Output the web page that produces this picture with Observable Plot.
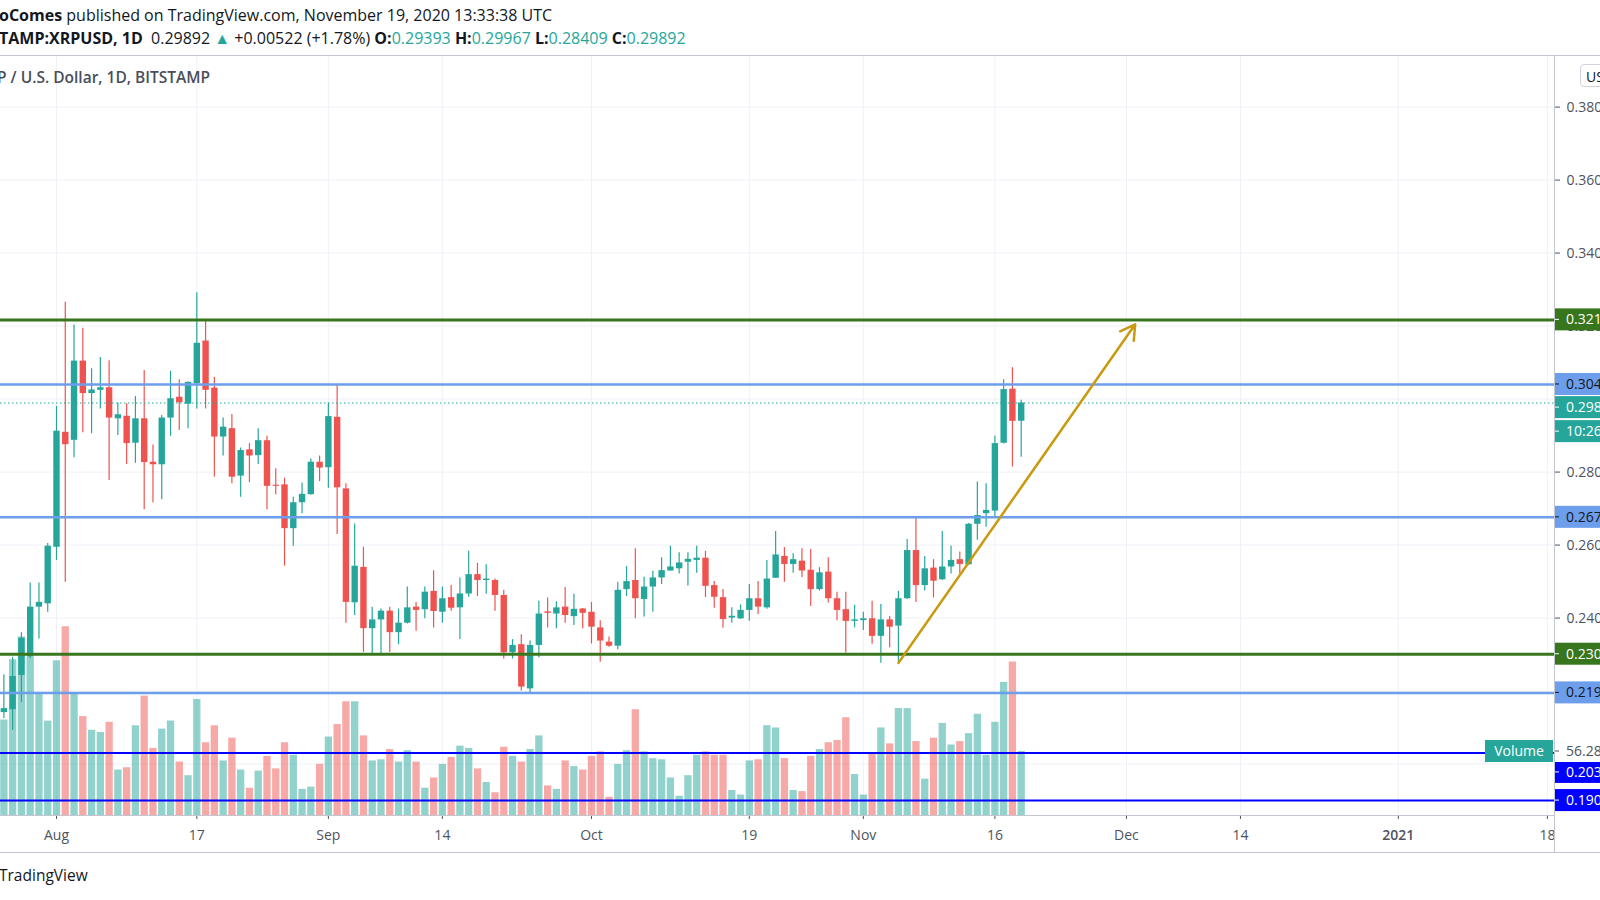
<!DOCTYPE html>
<html><head><meta charset="utf-8"><title>XRPUSD 1D</title>
<script src="https://cdn.jsdelivr.net/npm/d3@7"></script>
<script src="https://cdn.jsdelivr.net/npm/@observablehq/plot@0.6"></script>
<style>
html,body{margin:0;padding:0;background:#fff;}
body{width:1600px;height:900px;overflow:hidden;position:relative;font-family:"Open Sans","Noto Sans",sans-serif;color:#131722;}
.hl{position:absolute;white-space:nowrap;font-size:16px;line-height:20px;}
#l1{left:-1px;top:5px;}
#l2{left:-1px;top:28px;}
.t{color:#26a69a}
#l3{left:-3px;top:67px;color:#4a4e5a;font-weight:600;font-size:15.5px;}
#foot{left:-1px;top:865px;font-size:15.5px;}
.bl{position:absolute;background:#c3c6ce;}
.layer{position:absolute;left:0;top:56px;}
#usd{position:absolute;left:1580px;top:64px;width:34px;height:23px;border:1px solid #d1d4dc;border-radius:4px;font-size:14px;line-height:23px;padding-left:5px;box-sizing:border-box;color:#131722;background:#fff;}
</style></head><body>
<div class="hl" id="l1"><b>oComes</b> published on TradingView.com, November 19, 2020 13:33:38 UTC</div>
<div class="hl" id="l2"><b>TAMP:XRPUSD, 1D</b>&nbsp; 0.29892 <span class="t">▲</span> +0.00522 (+1.78%) <b>O:</b><span class="t">0.29393</span> <b>H:</b><span class="t">0.29967</span> <b>L:</b><span class="t">0.28409</span> <b>C:</b><span class="t">0.29892</span></div>
<div class="layer" id="gridLayer"></div>
<div class="layer" id="volLayer"></div>
<div class="layer" id="mainLayer"></div>
<div class="bl" style="left:0;top:55px;width:1600px;height:1px;"></div>
<div class="bl" style="left:0;top:852px;width:1600px;height:1px;"></div>
<div class="bl" style="left:0;top:815px;width:1554px;height:1px;"></div>
<div class="bl" style="left:1554px;top:56px;width:1px;height:797px;"></div>
<div class="hl" id="l3">P / U.S. Dollar, 1D, BITSTAMP</div>
<div id="usd">USD</div>
<div class="hl" id="foot">TradingView</div>
<script>
// ---- data (XRP/USD daily, Bitstamp) ----
const startDay = "2020-07-26";
const open = [0.2141,0.2149,0.2243,0.2293,0.2430,0.2439,
0.2594,0.2909,0.2887,0.3104,0.3015,0.3024,0.3031,0.2946,0.2953,0.2879,0.2946,0.2827,0.2820,0.2948,0.3005,0.2986,0.3042,0.3159,0.3030,0.2896,0.2919,0.2789,0.2861,0.2845,0.2886,0.2764,0.2765,0.2645,0.2716,0.2738,0.2827,
0.2812,0.2950,0.2754,0.2442,0.2539,0.2371,0.2395,0.2419,0.2360,0.2386,0.2430,0.2423,0.2473,0.2416,0.2456,0.2428,0.2466,0.2519,0.2503,0.2503,0.2462,0.2305,0.2327,0.2206,0.2325,0.2417,0.2411,0.2430,0.2404,0.2425,
0.2416,0.2373,0.2334,0.2323,0.2478,0.2503,0.2451,0.2485,0.2510,0.2529,0.2535,0.2553,0.2558,0.2564,0.2489,0.2456,0.2400,0.2398,0.2421,0.2453,0.2428,0.2509,0.2569,0.2547,0.2556,0.2531,0.2478,0.2526,0.2453,0.2423,0.2391,
0.2393,0.2398,0.2350,0.2395,0.2378,0.2453,0.2585,0.2489,0.2537,0.2505,0.2540,0.2560,0.2546,0.2657,0.2686,0.2693,0.2879,0.3027,0.29393];
const high = [0.2245,0.2293,0.2360,0.2496,0.2496,0.2604,
0.2980,0.3265,0.3203,0.3194,0.3083,0.3114,0.3105,0.2989,0.2987,0.3007,0.3078,0.2874,0.2955,0.3076,0.3053,0.3047,0.3291,0.3215,0.3060,0.2948,0.2958,0.2866,0.2878,0.2919,0.2898,0.2809,0.2783,0.2731,0.2770,0.2836,0.2844,
0.2989,0.3037,0.2768,0.2658,0.2594,0.2430,0.2425,0.2430,0.2425,0.2485,0.2443,0.2485,0.2530,0.2485,0.2489,0.2510,0.2583,0.2550,0.2546,0.2507,0.2476,0.2341,0.2354,0.2337,0.2446,0.2455,0.2445,0.2484,0.2465,0.2426,
0.2443,0.2393,0.2348,0.2498,0.2541,0.2590,0.2512,0.2528,0.2565,0.2597,0.2579,0.2579,0.2597,0.2583,0.2500,0.2478,0.2428,0.2436,0.2492,0.2500,0.2558,0.2637,0.2593,0.2576,0.2590,0.2588,0.2538,0.2565,0.2471,0.2471,0.2435,
0.2416,0.2446,0.2437,0.2404,0.2473,0.2615,0.2674,0.2569,0.2560,0.2637,0.2597,0.2581,0.2659,0.2773,0.2768,0.2898,0.3053,0.3086,0.29967];
const low = [0.2125,0.2092,0.2169,0.2289,0.2343,0.2416,
0.2558,0.2498,0.2839,0.2908,0.2905,0.2973,0.2777,0.2900,0.2821,0.2824,0.2697,0.2716,0.2724,0.2898,0.2914,0.2919,0.2973,0.2973,0.2786,0.2844,0.2768,0.2731,0.2771,0.2821,0.2697,0.2738,0.2542,0.2597,0.2686,0.2737,0.2774,
0.2756,0.2629,0.2386,0.2407,0.2306,0.2297,0.2297,0.2306,0.2327,0.2384,0.2364,0.2398,0.2373,0.2386,0.2419,0.2341,0.2457,0.2459,0.2465,0.2419,0.2288,0.2288,0.2200,0.2192,0.2291,0.2373,0.2371,0.2386,0.2380,0.2371,
0.2329,0.2279,0.2320,0.2313,0.2459,0.2398,0.2403,0.2416,0.2492,0.2528,0.2521,0.2488,0.2523,0.2456,0.2427,0.2372,0.2386,0.2396,0.2391,0.2410,0.2424,0.2509,0.2498,0.2523,0.2511,0.2432,0.2474,0.2441,0.2393,0.2304,0.2373,
0.2366,0.2328,0.2276,0.2319,0.2276,0.2451,0.2443,0.2474,0.2455,0.2503,0.2521,0.2521,0.2544,0.2613,0.2649,0.2677,0.2877,0.2814,0.28409];
const close = [0.2152,0.2240,0.2345,0.2430,0.2443,0.2597,
0.2912,0.2875,0.3104,0.3015,0.3025,0.3031,0.2948,0.2957,0.2878,0.2946,0.2826,0.2820,0.2948,0.3001,0.2990,0.3046,0.3153,0.3024,0.2896,0.2923,0.2786,0.2859,0.2844,0.2886,0.2761,0.2761,0.2645,0.2716,0.2739,0.2827,0.2811,
0.2952,0.2757,0.2443,0.2542,0.2371,0.2395,0.2419,0.2360,0.2386,0.2428,0.2421,0.2471,0.2418,0.2453,0.2427,0.2466,0.2519,0.2503,0.2507,0.2462,0.2305,0.2325,0.2211,0.2325,0.2411,0.2413,0.2428,0.2407,0.2424,0.2413,
0.2375,0.2337,0.2323,0.2476,0.2500,0.2453,0.2485,0.2510,0.2530,0.2540,0.2551,0.2561,0.2564,0.2487,0.2457,0.2396,0.2405,0.2421,0.2453,0.2430,0.2507,0.2573,0.2547,0.2560,0.2529,0.2478,0.2524,0.2453,0.2421,0.2391,0.2395,
0.2398,0.2350,0.2395,0.2375,0.2453,0.2585,0.2489,0.2535,0.2501,0.2540,0.2558,0.2547,0.2657,0.2681,0.2695,0.2878,0.3026,0.2939,0.29892];
const volume = [84,137,157,139,108,83,
136,166,108,87,75,73,82,40,42,79,105,59,76,83,47,35,102,64,79,48,68,40,24,39,52,41,64,53,23,25,45,
69,80,100,100,70,48,49,58,47,57,47,24,33,45,51,61,59,41,29,20,60,52,47,58,70,26,23,48,43,40,
52,56,16,45,57,93,56,50,49,33,17,35,53,56,53,53,22,18,48,49,79,77,50,22,21,52,58,64,66,86,36,
18,54,77,63,94,94,65,32,68,81,62,65,72,89,53,82,117,135,56.28];

const xTickDates = ["2020-08-01","2020-08-17","2020-09-01","2020-09-14","2020-10-01","2020-10-19","2020-11-01","2020-11-16","2020-12-01","2020-12-14","2021-01-01","2021-01-18"];
const xTickLabels = ["Aug","17","Sep","14","Oct","19","Nov","16","Dec","14","2021","18"];
const yAxisTicks = [0.24,0.26,0.28,0.32,0.34,0.36,0.38];
const yGridTicks = [0.20,0.22,0.24,0.26,0.28,0.30,0.32,0.34,0.36,0.38];
const levelGreen = [0.3217, 0.2301];
const levelBlue = [0.3040, 0.2676, 0.2195];
const levelNavy = [0.2030, 0.1900];
const lastPrice = 0.29892;
const lastVolume = 56.28;
const trend = [{x1:"2020-11-05", y1:0.2277, x2:"2020-12-02", y2:0.3205}];

// ---- layout ----
const W = 1600, H = 797;
const FONT = '"Open Sans","Noto Sans",sans-serif';
const xDomain = [new Date(Date.UTC(2020,6,25,14,46)), new Date(Date.UTC(2021,0,18,19,27))];
const yDomain = [0.18591, 0.39386];
const volDomain = [0, 667.5];
const TEAL = "#26a69a", RED = "#ef5350";

const start = new Date(startDay);
const rows = open.map((o,i)=>({date:d3.utcDay.offset(start,i), open:o, high:high[i], low:low[i], close:close[i], volume:volume[i]}));
const upRows = rows.filter(d=>d.close>=d.open);
const downRows = rows.filter(d=>d.close<d.open);
const tickDates = xTickDates.map(s=>new Date(s));
const tickLabel = new Map(tickDates.map((d,i)=>[+d, xTickLabels[i]]));

const base = {width:W, height:H, marginLeft:0, marginRight:46, marginTop:0, marginBottom:38,
  style:{background:"transparent", overflow:"visible", maxWidth:"none", fontFamily:FONT, fontSize:"14px", color:"#50535e"}};

const grid = Plot.plot({...base,
  x:{type:"utc", domain:xDomain, axis:null},
  y:{domain:yDomain, axis:null},
  marks:[
    Plot.ruleY(yGridTicks, {stroke:"#eef1f7", strokeWidth:1}),
    Plot.ruleX(tickDates, {stroke:"#eef1f7", strokeWidth:1})
  ]});
document.getElementById("gridLayer").appendChild(grid);

const vol = Plot.plot({...base,
  x:{type:"utc", domain:xDomain, axis:null},
  y:{domain:volDomain, axis:null},
  marks:[
    Plot.ruleX(upRows, {x:"date", y1:0, y2:"volume", stroke:TEAL, strokeOpacity:0.5, strokeWidth:7.3}),
    Plot.ruleX(downRows, {x:"date", y1:0, y2:"volume", stroke:RED, strokeOpacity:0.5, strokeWidth:7.3})
  ]});
document.getElementById("volLayer").appendChild(vol);

const main = Plot.plot({...base,
  x:{type:"utc", domain:xDomain, ticks:tickDates, tickFormat:d=>tickLabel.get(+d), tickSize:4, tickPadding:11, label:null},
  y:{domain:yDomain, axis:"right", ticks:yAxisTicks, tickFormat:d3.format(".3f"), tickSize:5, tickPadding:7, label:null},
  marks:[
    Plot.ruleX(upRows, {x:"date", y1:"low", y2:"high", stroke:TEAL, strokeWidth:1.2}),
    Plot.ruleX(downRows, {x:"date", y1:"low", y2:"high", stroke:RED, strokeWidth:1.2}),
    Plot.ruleX(upRows, {x:"date", y1:"open", y2:"close", stroke:TEAL, strokeWidth:6.4}),
    Plot.ruleX(downRows, {x:"date", y1:"open", y2:"close", stroke:RED, strokeWidth:6.4}),
    Plot.ruleY([lastPrice], {stroke:TEAL, strokeWidth:1, strokeDasharray:"1.5,2.5"}),
    Plot.ruleY(levelGreen, {stroke:"#38761d", strokeWidth:3}),
    Plot.ruleY(levelBlue, {stroke:"#6d9eeb", strokeWidth:2.5}),
    Plot.ruleY(levelNavy, {stroke:"#0000ff", strokeWidth:2}),
    Plot.arrow(trend, {x1:d=>new Date(d.x1), y1:"y1", x2:d=>new Date(d.x2), y2:"y2", stroke:"#c99a10", strokeWidth:2.5, headLength:10, headAngle:60})
  ]});
document.getElementById("mainLayer").appendChild(main);

// ---- right-axis value tags, positioned through the plots' scales ----
function scaleFn(plot, name){
  const s = plot.scale(name);
  return s.apply ? (v)=>s.apply(v) : d3.scaleLinear(s.domain, s.range);
}
const yP = scaleFn(main, "y");
const yV = scaleFn(vol, "y");
const svg = d3.select(main);
const AX = W - 46;
function tag(yc, text, fill, color){
  const g = svg.append("g").attr("text-anchor","start");
  g.append("rect").attr("x", AX+1).attr("y", yc-11).attr("width", 60).attr("height", 22).attr("fill", fill);
  g.append("line").attr("x1", AX+1).attr("x2", AX+5).attr("y1", yc).attr("y2", yc).attr("stroke", color).attr("stroke-width",1);
  g.append("text").attr("x", AX+12).attr("y", yc).attr("dy","0.35em").attr("text-anchor","start").attr("fill", color)
    .style("font-family", FONT).style("font-size","14px").text(text);
}
tag(yP(levelGreen[0]), levelGreen[0].toFixed(4), "#38761d", "#ffffff");
tag(yP(levelBlue[0]), levelBlue[0].toFixed(4), "#6d9eeb", "#131722");
tag(yP(lastPrice)+4.6, lastPrice.toFixed(5), TEAL, "#ffffff");
tag(yP(lastPrice)+28.6, "10:26:22", TEAL, "#ffffff");
tag(yP(levelBlue[1]), levelBlue[1].toFixed(4), "#6d9eeb", "#131722");
tag(yP(levelGreen[1]), levelGreen[1].toFixed(4), "#38761d", "#ffffff");
tag(yP(levelBlue[2]), levelBlue[2].toFixed(4), "#6d9eeb", "#131722");
tag(yP(levelNavy[0])+19.3, levelNavy[0].toFixed(4), "#0000ff", "#ffffff");
tag(yP(levelNavy[1]), levelNavy[1].toFixed(4), "#0000ff", "#ffffff");
// volume last value
const yv = yV(lastVolume);
const vg = svg.append("g");
vg.append("rect").attr("x", 1485).attr("y", yv-11).attr("width", 68).attr("height", 22).attr("fill", TEAL);
vg.append("text").attr("x", 1519).attr("y", yv).attr("dy","0.35em").attr("text-anchor","middle").attr("fill","#fff")
  .style("font-family", FONT).style("font-size","14px").text("Volume");
vg.append("rect").attr("x", AX+1).attr("y", yv-11).attr("width", 60).attr("height", 22).attr("fill", "#fff");
vg.append("line").attr("x1", AX).attr("x2", AX+5).attr("y1", yv).attr("y2", yv).attr("stroke", "#50535e");
vg.append("text").attr("x", AX+12).attr("y", yv).attr("dy","0.35em").attr("text-anchor","start").attr("fill","#50535e")
  .style("font-family", FONT).style("font-size","14px").text(lastVolume.toFixed(2)+"M");
// bold year label
svg.selectAll("text").filter(function(){return this.textContent==="2021";}).style("font-weight","600");
</script>
</body></html>
